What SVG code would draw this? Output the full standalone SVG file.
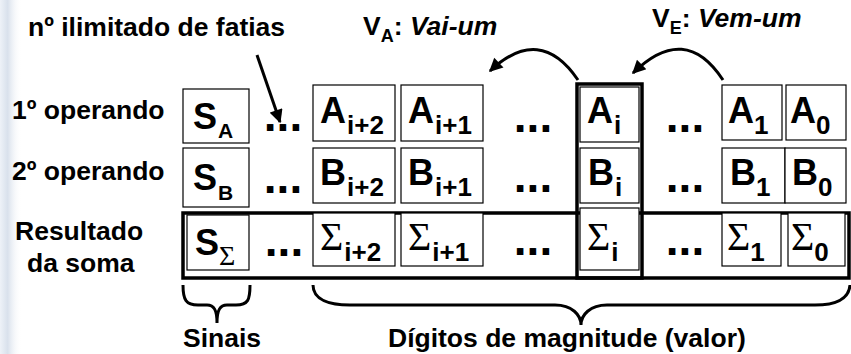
<svg xmlns="http://www.w3.org/2000/svg" width="851" height="354" viewBox="0 0 851 354">
<defs>
<linearGradient id="bg" x1="0" x2="1" y1="0" y2="0">
<stop offset="0" stop-color="#eef2f8"/>
<stop offset="0.35" stop-color="#d9e1ec"/>
<stop offset="1" stop-color="#ffffff" stop-opacity="0"/>
</linearGradient>
<marker id="ah" viewBox="0 0 10 10" refX="9" refY="5" markerWidth="5" markerHeight="4.5" orient="auto" markerUnits="strokeWidth">
<path d="M0,0 L10,5 L0,10 z" fill="#000"/>
</marker>
</defs>
<style>
text{font-family:"Liberation Sans",Arial,sans-serif;font-weight:bold;fill:#000}
.lbl{font-size:26.5px}
.big{font-size:36px}
.sub{font-size:26px}
.ssub{font-size:21px}
.sig{font-family:"Liberation Serif","Times New Roman",serif;font-weight:normal}
.dots{font-size:46px;text-anchor:middle}
.box{fill:#fff;stroke:#000;stroke-width:1.2}
.thick{fill:none;stroke:#000;stroke-width:3.5}
.con{fill:none;stroke:#000;stroke-width:3}
</style>
<rect x="0" y="0" width="22" height="354" fill="url(#bg)"/>

<g id="labels">
<text class="lbl" x="28" y="36">nº ilimitado de fatias</text>
<text class="lbl" x="363" y="35">V<tspan dy="7" font-size="18">A</tspan><tspan dy="-7">: </tspan><tspan font-style="italic">Vai-um</tspan></text>
<text class="lbl" x="652" y="27">V<tspan dy="7" font-size="18">E</tspan><tspan dy="-7">: </tspan><tspan font-style="italic">Vem-um</tspan></text>
<text class="lbl" x="12" y="119">1º operando</text>
<text class="lbl" x="12" y="180">2º operando</text>
<text class="lbl" x="15" y="240">Resultado</text>
<text class="lbl" x="27" y="272">da soma</text>
<text class="lbl" x="183" y="347">Sinais</text>
<text class="lbl" x="388" y="347">Dígitos de magnitude (valor)</text>
</g>

<g id="row-sum-frame">
<rect class="thick" x="183" y="213" width="666" height="65"/>
</g>

<g id="SA"><rect class="box" x="183" y="89" width="66" height="54"/><text class="big" x="193" y="129">S<tspan class="ssub" dx="1" dy="9">A</tspan></text></g>
<g id="SB"><rect class="box" x="183" y="148" width="66" height="59"/><text class="big" x="193" y="190">S<tspan class="ssub" dx="1" dy="10">B</tspan></text></g>
<g id="SS"><rect class="box" x="187" y="215" width="62" height="55"/><text class="big" x="195" y="255">S<tspan class="sig" font-size="28" dx="0" dy="10">Σ</tspan></text></g>

<g id="Ai2"><rect class="box" x="313" y="85" width="82" height="56"/><text class="big" x="320" y="123">A<tspan class="sub" dx="1" dy="11">i+2</tspan></text></g>
<g id="Ai1"><rect class="box" x="401" y="85" width="82" height="56"/><text class="big" x="408" y="123">A<tspan class="sub" dx="1" dy="11">i+1</tspan></text></g>
<g id="Ai"><rect class="box" x="580" y="87" width="59" height="55"/><text class="big" x="587" y="123">A<tspan class="sub" dx="1" dy="11">i</tspan></text></g>
<g id="A1"><rect class="box" x="722" y="85" width="60" height="55"/><text class="big" x="728" y="123">A<tspan class="sub" dx="0" dy="11">1</tspan></text></g>
<g id="A0"><rect class="box" x="786" y="85" width="60" height="55"/><text class="big" x="790" y="123">A<tspan class="sub" dx="0" dy="11">0</tspan></text></g>

<g id="Bi2"><rect class="box" x="313" y="148" width="82" height="55"/><text class="big" x="320" y="185">B<tspan class="sub" dx="1" dy="11">i+2</tspan></text></g>
<g id="Bi1"><rect class="box" x="401" y="148" width="82" height="55"/><text class="big" x="408" y="185">B<tspan class="sub" dx="1" dy="11">i+1</tspan></text></g>
<g id="Bi"><rect class="box" x="580" y="148" width="59" height="55"/><text class="big" x="588" y="185">B<tspan class="sub" dx="1" dy="11">i</tspan></text></g>
<g id="B1"><rect class="box" x="722" y="148" width="63" height="55"/><text class="big" x="730" y="185">B<tspan class="sub" dx="0" dy="11">1</tspan></text></g>
<g id="B0"><rect class="box" x="785" y="148" width="61" height="55"/><text class="big" x="792" y="185">B<tspan class="sub" dx="0" dy="11">0</tspan></text></g>

<g id="Si2"><rect class="box" x="313" y="213" width="82" height="53"/><text class="big" x="320" y="250"><tspan class="sig" font-size="40">Σ</tspan><tspan class="sub" dx="1" dy="11">i+2</tspan></text></g>
<g id="Si1"><rect class="box" x="401" y="213" width="82" height="53"/><text class="big" x="408" y="250"><tspan class="sig" font-size="40">Σ</tspan><tspan class="sub" dx="1" dy="11">i+1</tspan></text></g>
<g id="Si"><rect class="box" x="580" y="208" width="59" height="62"/><text class="big" x="587" y="250"><tspan class="sig" font-size="40">Σ</tspan><tspan class="sub" dx="1" dy="11">i</tspan></text></g>
<g id="S1"><rect class="box" x="722" y="213" width="59" height="53"/><text class="big" x="727" y="250"><tspan class="sig" font-size="40">Σ</tspan><tspan class="sub" dx="0" dy="11">1</tspan></text></g>
<g id="S0"><rect class="box" x="788" y="213" width="57" height="53"/><text class="big" x="791" y="250"><tspan class="sig" font-size="40">Σ</tspan><tspan class="sub" dx="0" dy="11">0</tspan></text></g>

<g id="col-i-frame"><rect class="thick" x="577" y="84" width="65" height="194"/></g>

<g id="dots">
<text class="dots" x="283" y="131">...</text>
<text class="dots" x="533" y="132">...</text>
<text class="dots" x="685" y="132">...</text>
<text class="dots" x="283" y="193">...</text>
<text class="dots" x="533" y="192">...</text>
<text class="dots" x="685" y="192">...</text>
<text class="dots" x="284" y="256">...</text>
<text class="dots" x="533" y="255">...</text>
<text class="dots" x="685" y="255">...</text>
</g>

<g id="connectors">
<line class="con" x1="257" y1="55" x2="280" y2="122" marker-end="url(#ah)"/>
<path class="con" d="M578,80 Q540,24 490,71" marker-end="url(#ah)"/>
<path class="con" d="M723,80 Q685,22 633,73" marker-end="url(#ah)"/>
<path class="con" d="M183,285 C183,300 186,305 198,305 L207,305 C214,305 217,310 217,323 C217,310 220,305 227,305 L236,305 C248,305 250,300 250,285"/>
<path class="con" d="M313,285 C313,300 330,305 350,305 L555,305 C572,305 581,315 581,325 C581,315 590,305 607,305 L815,305 C838,305 849,298 850,285"/>
</g>
</svg>
